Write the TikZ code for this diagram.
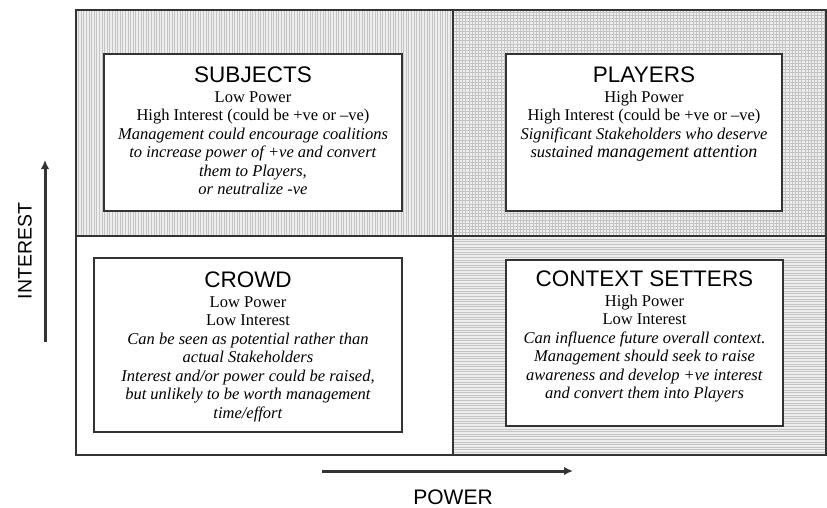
\documentclass[tikz,border=0pt]{standalone}
\usepackage{fontspec}
\setmainfont{Liberation Serif}
\setsansfont{Liberation Sans}
\usepackage{tikz}
\usetikzlibrary{arrows.meta, positioning}
\definecolor{frameGray}{HTML}{333333}
\definecolor{hatchGray}{HTML}{C4C4C4}
\definecolor{hatchBack}{HTML}{EEEEEE}
\tikzstyle{quadrant} = [rectangle, draw=frameGray, line width=1.2pt,
    inner sep=0pt, outer sep=0pt, anchor=north west]
\tikzstyle{group} = [rectangle, draw=frameGray, fill=white, line width=1.4pt,
    inner sep=0pt, outer sep=0pt, anchor=north west]
\newcommand{\grouptitle}[1]{{\fontsize{22.5}{22.5}\selectfont\sffamily #1}}

\begin{document}
\begin{tikzpicture}[x=1pt, y=-1pt,
    hatch/.style={hatchGray, line width=0.8pt},
    vlines/.style={fill=hatchBack, path picture={\foreach \k in {0,2.6,...,380}
        \draw[hatch] ([xshift=\k pt]path picture bounding box.south west) --
                     ([xshift=\k pt]path picture bounding box.north west);}},
    hlines/.style={fill=hatchBack, path picture={\foreach \k in {0,2.6,...,230}
        \draw[hatch] ([yshift=\k pt]path picture bounding box.south west) --
                     ([yshift=\k pt]path picture bounding box.south east);}},
    grid/.style={fill=hatchBack, path picture={\foreach \k in {0,3.2,...,380}
        \draw[hatch] ([xshift=\k pt]path picture bounding box.south west) --
                     ([xshift=\k pt]path picture bounding box.north west);
        \foreach \k in {0,3.2,...,230}
        \draw[hatch] ([yshift=\k pt]path picture bounding box.south west) --
                     ([yshift=\k pt]path picture bounding box.south east);}},
    groupText/.style={align=center, inner sep=0pt, anchor=north,
        font=\fontsize{16.5}{18.5}\selectfont},
    axisArrow/.style={draw=frameGray, line width=3pt, -{Latex[length=9pt,width=8.5pt]}},
    axisLabel/.style={font=\fontsize{19.5}{20}\selectfont\sffamily, inner sep=0pt}
    ]
    \useasboundingbox (0,0) rectangle (827,507);

    % the four quadrants
    \node[quadrant, vlines, minimum width=377pt, minimum height=226pt] (subjQ) at (76,10) {};
    \node[quadrant, grid, minimum width=373pt, minimum height=226pt] (playQ) at (453,10) {};
    \node[quadrant, minimum width=377pt, minimum height=219pt] (crowdQ) at (76,236) {};
    \node[quadrant, hlines, minimum width=373pt, minimum height=219pt] (contQ) at (453,236) {};

    % boxes
    \node[group, minimum width=298pt, minimum height=157pt] (subj) at (104,54) {};
    \node[group, minimum width=276pt, minimum height=157pt] (play) at (506,54) {};
    \node[group, minimum width=308pt, minimum height=174pt] (crowd) at (94,258) {};
    \node[group, minimum width=277pt, minimum height=166pt] (cont) at (506,260) {};

    \node[groupText, below=13pt of subj.north] (subjText) {\grouptitle{SUBJECTS}\\[1pt]
        Low Power\\
        High Interest (could be +ve or –ve)\\
        \textit{Management could encourage coalitions}\\
        \textit{to increase power of +ve and convert}\\
        \textit{them to Players,}\\
        \textit{or neutralize -ve}};
    \node[groupText, below=13pt of play.north] (playText) {\grouptitle{PLAYERS}\\[1pt]
        High Power\\
        High Interest (could be +ve or –ve)\\
        \textit{Significant Stakeholders who deserve}\\
        \textit{sustained {\fontsize{18}{18.5}\selectfont management attention}}};
    \node[groupText, below=14pt of crowd.north] (crowdText) {\grouptitle{CROWD}\\[1pt]
        Low Power\\
        Low Interest\\
        \textit{Can be seen as potential rather than}\\
        \textit{actual Stakeholders}\\
        \textit{Interest and/or power could be raised,}\\
        \textit{but unlikely to be worth management}\\
        \textit{time/effort}};
    \node[groupText, below=11pt of cont.north] (contText) {\grouptitle{CONTEXT SETTERS}\\[1pt]
        High Power\\
        Low Interest\\
        \textit{Can influence future overall context.}\\
        \textit{Management should seek to raise}\\
        \textit{awareness and develop +ve interest}\\
        \textit{and convert them into Players}};

    % axes
    \coordinate (intLow) at (45,342);
    \coordinate (intHigh) at (45,160);
    \coordinate (powLow) at (322,471);
    \coordinate (powHigh) at (573,471);
    \draw[axisArrow] (intLow) -- (intHigh);
    \draw[axisArrow] (powLow) -- (powHigh);
    \node[axisLabel, rotate=90] (intLabel) at (25,251) {INTEREST};
    \node[axisLabel, font=\fontsize{21}{21}\selectfont\sffamily] (powLabel) at (453,497) {POWER};
\end{tikzpicture}
\end{document}
